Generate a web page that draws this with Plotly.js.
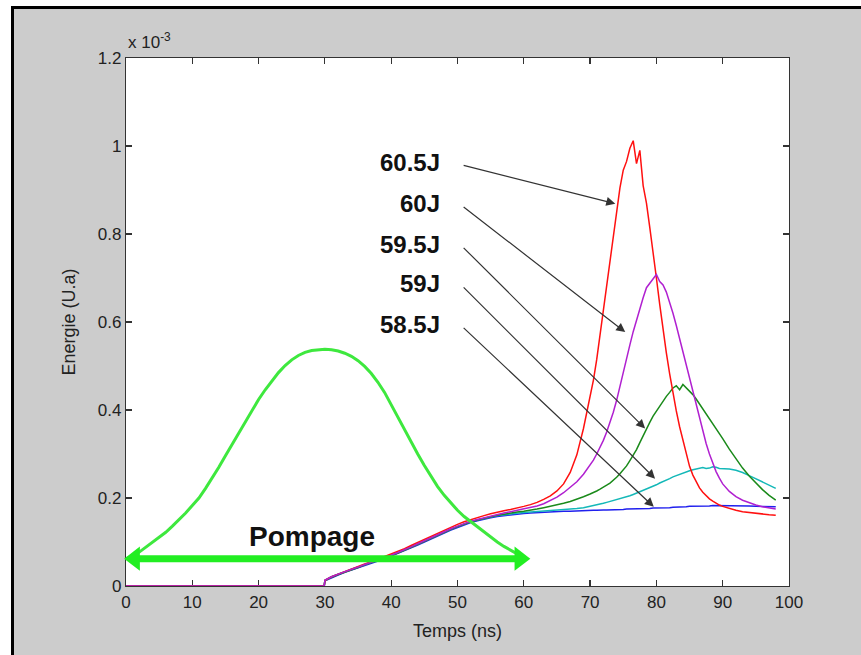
<!DOCTYPE html>
<html>
<head>
<meta charset="utf-8">
<script src="https://cdn.plot.ly/plotly-3.0.1.min.js"></script>
<style>
  html, body { margin: 0; padding: 0; background: #ffffff; width: 861px; height: 655px; overflow: hidden; }
  #frame { position: absolute; left: 11px; top: 6px; width: 850px; height: 649px; background: #cccccc;
           border-left: 3px solid #000; border-top: 3px solid #000; }
  #chart { position: absolute; left: 0; top: 0; width: 861px; height: 655px; }
</style>
</head>
<body>
<div id="frame"></div>
<div id="chart"></div>
<script>
// ---- data (energie in units of 1e-3) ----
const temps = [0, 29.9,
  30,31,32,33,34,35,36,37,38,39,40,41,42,43,44,45,46,47,48,49,
  50,51,52,53,54,55,56,57,58,59,60,61,62,63,64,65,66,67,68,69,
  70,70.5,71,71.5,72,72.5,73,73.5,74,74.5,75,75.5,76,76.5,77,77.5,78,78.5,79,79.5,
  80,80.5,81,81.5,82,82.5,83,83.5,84,84.5,85,85.5,86,86.5,87,87.5,88,88.5,89,89.5,90,
  91,92,93,94,95,96,97,98];

const e585 = [0, 0,
  0.012,0.019,0.025,0.031,0.036,0.041,0.047,0.052,0.057,0.062,0.068,0.074,0.080,0.087,0.093,0.100,0.107,0.114,0.121,0.127,
  0.133,0.139,0.144,0.148,0.152,0.155,0.158,0.160,0.162,0.164,0.165,0.166,0.167,0.168,0.168,0.169,0.170,0.170,0.171,0.171,
  0.172,0.172,0.172,0.173,0.173,0.173,0.173,0.174,0.174,0.174,0.174,0.175,0.175,0.175,0.175,0.176,0.176,0.176,0.176,0.177,
  0.177,0.177,0.177,0.178,0.178,0.179,0.179,0.180,0.180,0.180,0.181,0.181,0.181,0.182,0.182,0.182,0.182,0.183,0.183,0.183,0.183,
  0.183,0.182,0.182,0.182,0.181,0.181,0.180,0.180];

const e59 = [0, 0,
  0.013,0.021,0.027,0.033,0.038,0.043,0.049,0.054,0.059,0.064,0.070,0.076,0.082,0.089,0.095,0.102,0.109,0.116,0.123,0.129,
  0.135,0.141,0.146,0.150,0.154,0.157,0.160,0.162,0.164,0.166,0.167,0.168,0.169,0.170,0.171,0.172,0.173,0.174,0.176,0.178,
  0.181,0.182,0.184,0.186,0.188,0.190,0.192,0.194,0.196,0.198,0.200,0.202,0.205,0.208,0.211,0.214,0.218,0.221,0.224,0.227,
  0.230,0.234,0.237,0.240,0.244,0.248,0.251,0.254,0.257,0.260,0.262,0.264,0.266,0.268,0.269,0.267,0.268,0.271,0.270,0.267,0.267,
  0.266,0.263,0.258,0.251,0.244,0.236,0.229,0.222];

const e595 = [0, 0,
  0.012,0.020,0.026,0.031,0.037,0.042,0.048,0.053,0.058,0.063,0.069,0.075,0.081,0.088,0.095,0.102,0.109,0.116,0.123,0.129,
  0.135,0.141,0.146,0.150,0.154,0.157,0.161,0.163,0.166,0.168,0.170,0.172,0.175,0.178,0.181,0.184,0.188,0.192,0.197,0.203,
  0.209,0.212,0.216,0.220,0.224,0.229,0.234,0.240,0.247,0.255,0.263,0.273,0.285,0.297,0.310,0.326,0.342,0.357,0.372,0.386,
  0.398,0.410,0.420,0.431,0.440,0.450,0.455,0.446,0.458,0.450,0.444,0.435,0.425,0.414,0.402,0.392,0.381,0.370,0.358,0.346,0.335,
  0.311,0.289,0.268,0.250,0.234,0.219,0.206,0.195];

const e60 = [0, 0,
  0.013,0.021,0.027,0.032,0.038,0.043,0.049,0.054,0.059,0.064,0.070,0.076,0.082,0.089,0.096,0.103,0.110,0.117,0.124,0.130,
  0.136,0.142,0.147,0.151,0.155,0.159,0.163,0.166,0.169,0.172,0.175,0.178,0.182,0.187,0.194,0.202,0.212,0.224,0.237,0.254,
  0.274,0.286,0.300,0.315,0.331,0.350,0.372,0.395,0.422,0.455,0.487,0.518,0.548,0.578,0.605,0.632,0.655,0.678,0.688,0.700,
  0.708,0.692,0.684,0.668,0.646,0.620,0.592,0.562,0.530,0.500,0.468,0.438,0.408,0.378,0.350,0.324,0.300,0.279,0.260,0.245,0.232,
  0.215,0.203,0.195,0.189,0.184,0.180,0.177,0.175];

const e605 = [0, 0,
  0.013,0.021,0.027,0.033,0.039,0.044,0.050,0.055,0.061,0.066,0.072,0.078,0.085,0.092,0.099,0.106,0.113,0.120,0.127,0.134,
  0.140,0.146,0.151,0.156,0.160,0.164,0.168,0.171,0.174,0.177,0.181,0.185,0.190,0.197,0.205,0.216,0.232,0.258,0.298,0.358,
  0.430,0.468,0.515,0.570,0.625,0.680,0.742,0.800,0.852,0.905,0.945,0.965,0.995,1.012,0.960,0.990,0.910,0.870,0.815,0.762,
  0.700,0.640,0.582,0.530,0.482,0.438,0.398,0.362,0.330,0.300,0.272,0.252,0.236,0.223,0.213,0.205,0.198,0.193,0.188,0.184,0.181,
  0.176,0.172,0.169,0.167,0.165,0.163,0.162,0.161];

// pump pulse outline (green bell) and its span arrow
const pumpT = [0,1,2,3,4,5,6,7,8,9,10,11,12,13,14,15,16,17,18,19,20,21,22,23,24,25,26,27,28,29,30,
               31,32,33,34,35,36,37,38,39,40,41,42,43,44,45,46,47,48,49,50,51,52,53,54,55,56,57,58,59,60];
const pumpE = [0.062,0.068,0.077,0.088,0.099,0.110,0.122,0.136,0.150,0.166,0.183,0.200,0.222,0.245,0.270,0.296,
               0.322,0.348,0.375,0.400,0.424,0.446,0.466,0.485,0.501,0.514,0.524,0.531,0.535,0.537,0.538,
               0.537,0.534,0.529,0.522,0.512,0.499,0.483,0.463,0.440,0.412,0.382,0.353,0.326,0.300,0.274,
               0.250,0.226,0.206,0.188,0.172,0.158,0.146,0.134,0.122,0.111,0.100,0.090,0.081,0.073,0.066];
const pumpArrowT = [1.3, 59.4];
const pumpArrowE = [0.062, 0.062];

const labels = ["60.5J", "60J", "59.5J", "59J", "58.5J"];
const labelY = [0.962, 0.869, 0.777, 0.687, 0.595];
const arrowTipT = [73.8, 75.3, 78.3, 79.8, 79.6];
const arrowTipE = [0.869, 0.577, 0.358, 0.244, 0.180];

const traces = [
  {x: temps, y: e585, name: "58.5J", line: {color: "#2020ee", width: 1.5}},
  {x: temps, y: e59,  name: "59J",   line: {color: "#14b8b8", width: 1.5}},
  {x: temps, y: e595, name: "59.5J", line: {color: "#1a8a1a", width: 1.5}},
  {x: temps, y: e605, name: "60.5J", line: {color: "#ff1010", width: 1.5}},
  {x: temps, y: e60,  name: "60J",   line: {color: "#b020d0", width: 1.5}},
  {x: pumpT, y: pumpE, name: "pump", line: {color: "#3ee83e", width: 3}},
  {x: pumpArrowT, y: pumpArrowE, name: "span", mode: "lines+markers", cliponaxis: false,
   line: {color: "#22ee22", width: 7},
   marker: {symbol: ["triangle-left", "triangle-right"], size: 21, color: "#22ee22"}}
].map(t => Object.assign({type: "scatter", mode: "lines", showlegend: false, hoverinfo: "skip"}, t));

const annotations = [];
labels.forEach((txt, i) => {
  annotations.push({
    x: 47.7, y: labelY[i], xref: "x", yref: "y", text: "<b>" + txt + "</b>",
    showarrow: false, xanchor: "right", yanchor: "middle",
    font: {family: "Liberation Sans, Arial, sans-serif", size: 24, color: "#111"}
  });
  annotations.push({
    x: arrowTipT[i], y: arrowTipE[i], xref: "x", yref: "y",
    ax: 50.7, ay: labelY[i] - 0.005, axref: "x", ayref: "y",
    text: "", showarrow: true, arrowhead: 2, arrowsize: 1.5, arrowwidth: 1.2, arrowcolor: "#333"
  });
});
annotations.push({
  x: 28.0, y: 0.113, xref: "x", yref: "y", text: "<b>Pompage</b>", showarrow: false,
  xanchor: "center", yanchor: "middle",
  font: {family: "Liberation Sans, Arial, sans-serif", size: 28, color: "#111"}
});
annotations.push({
  x: 0, y: 1, xref: "paper", yref: "paper", xanchor: "left", yanchor: "bottom", yshift: 4,
  text: "x 10<sup>-3</sup>", showarrow: false,
  font: {family: "Liberation Sans, Arial, sans-serif", size: 17, color: "#222"}
});

const axisCommon = {
  showgrid: false, zeroline: false, showline: true, linecolor: "#333", linewidth: 1.2,
  mirror: "allticks", ticks: "inside", ticklen: 6, tickwidth: 1.2, tickcolor: "#333",
  layer: "below traces",
  tickfont: {family: "Liberation Sans, Arial, sans-serif", size: 17, color: "#222"}
};

const layout = {
  width: 861, height: 655,
  margin: {l: 126, r: 72, t: 58, b: 69},
  paper_bgcolor: "rgba(0,0,0,0)", plot_bgcolor: "#ffffff",
  showlegend: false,
  xaxis: Object.assign({}, axisCommon, {
    range: [0, 100], dtick: 10, tick0: 0,
    title: {text: "Temps (ns)", standoff: 13, font: {family: "Liberation Sans, Arial, sans-serif", size: 18, color: "#222"}}
  }),
  yaxis: Object.assign({}, axisCommon, {
    range: [0, 1.2], dtick: 0.2, tick0: 0,
    title: {text: "Energie (U.a)", standoff: 17, font: {family: "Liberation Sans, Arial, sans-serif", size: 18, color: "#222"}}
  }),
  annotations: annotations
};

Plotly.newPlot("chart", traces, layout, {displayModeBar: false, staticPlot: true});
</script>
</body>
</html>
